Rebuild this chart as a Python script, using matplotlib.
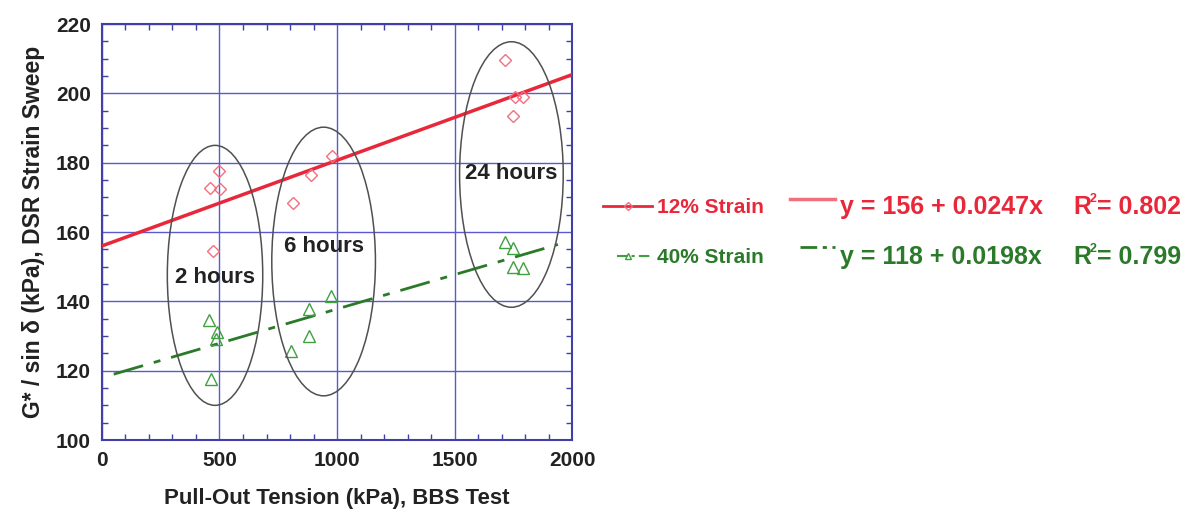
import matplotlib.pyplot as plt
from matplotlib.patches import Ellipse
from matplotlib.lines import Line2D
import numpy as np

plt.rcParams['font.family'] = ['Liberation Sans', 'DejaVu Sans']

# pull-out tension (kPa) vs G*/sin(delta) (kPa)
x_12 = [458, 499, 502, 474, 814, 891, 978, 1713, 1756, 1790, 1747]
y_12 = [172.8, 177.6, 172.3, 154.5, 168.4, 176.4, 181.9, 209.6, 199.0, 199.0, 193.6]

x_40 = [457, 490, 486, 464, 806, 881, 881, 974, 1713, 1749, 1749, 1791]
y_40 = [134.5, 131.1, 129.2, 117.6, 125.8, 129.9, 137.9, 141.5, 157.2, 155.3, 150.0, 149.5]

# linear fits: intercept, slope, R^2
fit_12 = (156, 0.0247, 0.802)
fit_40 = (118, 0.0198, 0.799)
fit_x_12 = [0, 2000]
fit_x_40 = [50, 1940]

# curing time groups: label, centre x, centre y, width, height
groups = [
    ('2 hours', 481, 147.5, 406, 75),
    ('6 hours', 943, 151.5, 441, 77.5),
    ('24 hours', 1742, 176.6, 441, 76.6),
]
label_y = [146.9, 155.7, 176.9]

red = '#e8283a'
red_mk = '#f07080'
green = '#2a7a2a'
green_mk = '#40a040'
grid_c = '#5a5ad0'
spine_c = '#4040a8'
txt_c = '#222222'

fig = plt.figure(figsize=(11.9, 5.12), dpi=100)
ax = fig.add_axes([0.0857, 0.1406, 0.3950, 0.8124])

ax.set_xlim(0, 2000)
ax.set_ylim(100, 220)
ax.set_xticks(np.arange(0, 2001, 500))
ax.set_yticks(np.arange(100, 221, 20))
ax.set_xticks(np.arange(0, 2001, 100), minor=True)
ax.set_yticks(np.arange(100, 221, 5), minor=True)
ax.grid(True, which='major', color=grid_c, linewidth=1.0)
ax.tick_params(which='both', direction='in', top=True, right=True, color=spine_c)
ax.tick_params(which='major', length=0, pad=8, labelsize=15)
ax.tick_params(which='minor', length=4, width=1)
for lbl in ax.get_xticklabels() + ax.get_yticklabels():
    lbl.set_fontweight('bold')
    lbl.set_color(txt_c)
for s in ax.spines.values():
    s.set_color(spine_c)
    s.set_linewidth(1.5)

fx = np.array(fit_x_12)
ax.plot(fx, fit_12[0] + fit_12[1] * fx, color=red, linewidth=2.5, zorder=3)
fx = np.array(fit_x_40)
ax.plot(fx, fit_40[0] + fit_40[1] * fx, color=green, linewidth=2.0,
        dashes=(11, 4, 2.5, 4), zorder=3)

ax.plot(x_12, y_12, linestyle='none', marker='D', markersize=6.5,
        markerfacecolor='none', markeredgecolor=red_mk, markeredgewidth=1.0, zorder=4)
ax.plot(x_40, y_40, linestyle='none', marker='^', markersize=8,
        markerfacecolor='none', markeredgecolor=green_mk, markeredgewidth=1.0, zorder=4)

for (name, cx, cy, w, h), ty in zip(groups, label_y):
    ax.add_patch(Ellipse((cx, cy), w, h, fill=False, edgecolor='#505050',
                         linewidth=1.1, zorder=5))
    ax.text(cx, ty, name, ha='center', va='center', fontsize=16,
            fontweight='bold', color=txt_c, zorder=6)

ax.set_xlabel('Pull-Out Tension (kPa), BBS Test', fontsize=16,
              fontweight='bold', color=txt_c, labelpad=13)
ax.set_ylabel('G* / sin δ (kPa), DSR Strain Sweep', fontsize=16.5,
              fontweight='bold', color=txt_c, labelpad=8)

# legend block drawn in pixel coordinates
leg = fig.add_axes([0.5, 0, 0.5, 1])
leg.set_xlim(595, 1190)
leg.set_ylim(512, 0)
leg.axis('off')

rows = [
    ('12% Strain', fit_12, red, red_mk, 'D', 206, 199, None),
    ('40% Strain', fit_40, green, green_mk, '^', 256, 247, (6, 2, 1.5, 2)),
]
for name, fit, col, mk_col, mk, yrow, yfit, dash in rows:
    if dash is None:
        leg.add_line(Line2D([603, 652], [yrow, yrow], color=col, linewidth=2))
        leg.add_line(Line2D([790, 835], [yfit, yfit], color=mk_col, linewidth=2.5))
    else:
        leg.add_line(Line2D([617, 653], [yrow, yrow], color=mk_col, linewidth=1.5,
                            dashes=(5, 2, 1.5, 2)))
        leg.add_line(Line2D([800, 835], [yfit, yfit], color=col, linewidth=2,
                            dashes=dash))
    leg.plot([628], [yrow], marker=mk, markersize=4, markerfacecolor='none',
             markeredgecolor=mk_col)
    leg.text(657, yrow + 1.5, name, color=col, fontsize=15, fontweight='bold',
             va='center', ha='left')
    leg.text(840, yrow + 1, 'y = %g + %gx' % (fit[0], fit[1]), color=col,
             fontsize=18, fontweight='bold', va='center', ha='left')
    leg.text(1073, yrow + 1, 'R', color=col, fontsize=18, fontweight='bold',
             va='center', ha='left')
    leg.text(1090, yrow - 7, '2', color=col, fontsize=9, fontweight='bold',
             va='center', ha='left')
    leg.text(1097, yrow + 1, '= %.3f' % fit[2], color=col, fontsize=18,
             fontweight='bold', va='center', ha='left')

fig.savefig('out.png', dpi=100)
